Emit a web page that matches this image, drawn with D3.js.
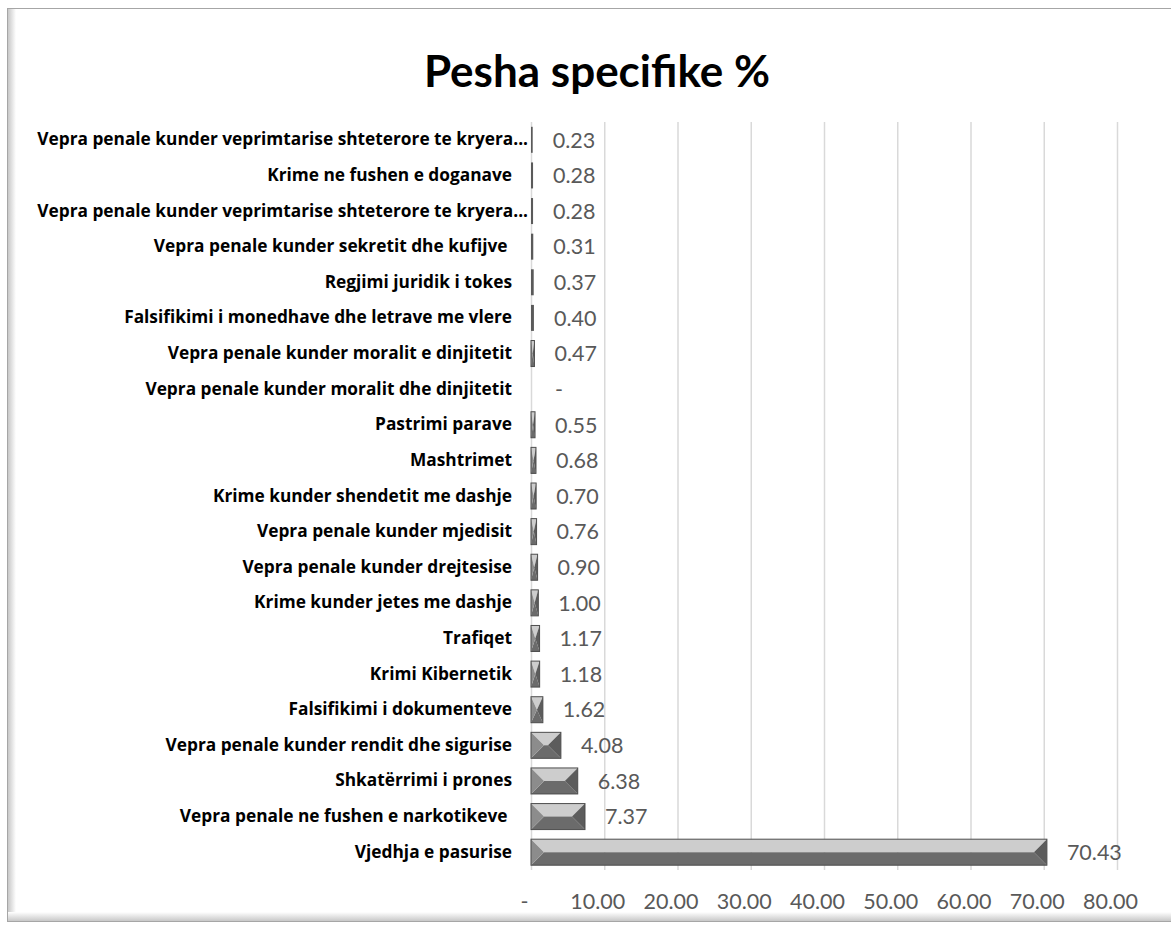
<!DOCTYPE html>
<html>
<head>
<meta charset="utf-8">
<script src="https://cdn.jsdelivr.net/npm/d3@7"></script>
<style>
  html, body { margin: 0; padding: 0; background: #fff; }
  svg { display: block; }
  .cat text { white-space: pre; }
</style>
</head>
<body>
<div id="chart"></div>
<script>
// Categories, top to bottom as drawn (trailing spaces are in the source labels)
const categories = [
    'Vepra penale kunder veprimtarise shteterore te kryera...',
    'Krime ne fushen e doganave',
    'Vepra penale kunder veprimtarise shteterore te kryera...',
    'Vepra penale kunder sekretit dhe kufijve ',
    'Regjimi juridik i tokes',
    'Falsifikimi i monedhave dhe letrave me vlere',
    'Vepra penale kunder moralit e dinjitetit',
    'Vepra penale kunder moralit dhe dinjitetit',
    'Pastrimi parave',
    'Mashtrimet',
    'Krime kunder shendetit me dashje',
    'Vepra penale kunder mjedisit',
    'Vepra penale kunder drejtesise',
    'Krime kunder jetes me dashje',
    'Trafiqet',
    'Krimi Kibernetik',
    'Falsifikimi i dokumenteve',
    'Vepra penale kunder rendit dhe sigurise',
    'Shkatërrimi i prones',
    'Vepra penale ne fushen e narkotikeve ',
    'Vjedhja e pasurise'
];

const values = [0.23, 0.28, 0.28, 0.31, 0.37, 0.40, 0.47, 0, 0.55, 0.68, 0.70,
                0.76, 0.90, 1.00, 1.17, 1.18, 1.62, 4.08, 6.38, 7.37, 70.43];

const ticks = [0, 10, 20, 30, 40, 50, 60, 70, 80];

const W = 1171, H = 925;
const margin = { left: 531, right: 54, top: 122, bottom: 55 };
const font = 'Lato, "Open Sans", sans-serif';

const fmt = v => v === 0 ? '-' : d3.format('.2f')(v);

const svg = d3.select('#chart').append('svg')
    .attr('width', W)
    .attr('height', H);

// chart frame with soft inner shading (left + bottom)
const defs = svg.append('defs');
const gl = defs.append('linearGradient').attr('id', 'shadeL');
gl.append('stop').attr('offset', 0).attr('stop-color', '#c8c8c8');
gl.append('stop').attr('offset', 1).attr('stop-color', '#ffffff');
const gb = defs.append('linearGradient').attr('id', 'shadeB')
    .attr('x1', 0).attr('y1', 1).attr('x2', 0).attr('y2', 0);
gb.append('stop').attr('offset', 0).attr('stop-color', '#c8c8c8');
gb.append('stop').attr('offset', 1).attr('stop-color', '#ffffff');

svg.append('rect').attr('x', 8).attr('y', 9).attr('width', 8).attr('height', 912)
    .attr('fill', 'url(#shadeL)');
svg.append('rect').attr('x', 8).attr('y', 912).attr('width', 1200).attr('height', 9)
    .attr('fill', 'url(#shadeB)');
svg.append('rect').attr('x', 7.5).attr('y', 8.5).attr('width', 1200).attr('height', 913)
    .attr('fill', 'none').attr('stroke', '#a6a6a6');

// Title
svg.append('text')
    .attr('x', 597)
    .attr('y', 87)
    .attr('text-anchor', 'middle')
    .attr('font-family', font)
    .attr('font-weight', 'bold')
    .attr('font-size', '44px')
    .attr('fill', '#000')
    .text('Pesha specifike %');

const x = d3.scaleLinear()
    .domain([0, 80])
    .range([margin.left, W - margin.right]);

const y = d3.scaleBand()
    .domain(d3.range(categories.length))
    .range([margin.top, H - margin.bottom])
    .paddingInner(0.27)
    .paddingOuter(0.135);

// Gridlines
svg.append('g')
    .selectAll('line')
    .data(ticks)
    .join('line')
    .attr('x1', d => x(d) + 0.5)
    .attr('x2', d => x(d) + 0.5)
    .attr('y1', margin.top)
    .attr('y2', H - margin.bottom)
    .attr('stroke', '#d9d9d9')
    .attr('stroke-width', 1.5);

// X axis labels (accounting format shifts them left a little)
const xAxis = d3.axisBottom(x)
    .tickValues(ticks)
    .tickSize(0)
    .tickFormat(fmt);

const xg = svg.append('g')
    .attr('transform', `translate(-7,${H - margin.bottom + 21})`)
    .call(xAxis);
xg.select('.domain').remove();
xg.selectAll('text')
    .attr('font-family', font)
    .attr('font-size', '21.5px')
    .attr('fill', '#595959');

// Category labels
const yAxis = d3.axisLeft(y)
    .tickSize(0)
    .tickPadding(19)
    .tickFormat(i => categories[i]);

const yg = svg.append('g')
    .attr('class', 'cat')
    .attr('transform', `translate(${margin.left},0)`)
    .call(yAxis);
yg.select('.domain').remove();
yg.selectAll('text')
    .attr('font-family', '"Open Sans", sans-serif')
    .attr('font-weight', 'bold')
    .attr('font-size', '17.3px')
    .attr('fill', '#000')
    .attr('dx', i => categories[i].endsWith('...') ? 16 : 0);

// Bevelled bars
const bars = svg.append('g')
    .selectAll('g')
    .data(values.map((v, i) => ({ v, i })).filter(d => d.v > 0))
    .join('g');

function barPoly(d) {
    const x0 = x(0), x1 = x(d.v);
    const y0 = y(d.i), y1 = y0 + y.bandwidth();
    const ym = (y0 + y1) / 2;
    const w = x1 - x0, h = y1 - y0;
    const b = Math.min(h / 2, w / 2);
    return { x0, x1, y0, y1, ym, b, w };
}

bars.each(function(d) {
    const g = d3.select(this);
    const p = barPoly(d);
    if (p.w < 3) {
        g.append('rect')
            .attr('x', p.x0).attr('y', p.y0)
            .attr('width', Math.max(p.w, 1.6)).attr('height', p.y1 - p.y0)
            .attr('fill', '#5a5a5a');
        return;
    }
    const pts = a => a.map(q => q.join(',')).join(' ');
    // top face
    g.append('polygon')
        .attr('points', pts([[p.x0, p.y0], [p.x1, p.y0], [p.x1 - p.b, p.ym], [p.x0 + p.b, p.ym]]))
        .attr('fill', '#cdcdcd');
    // bottom face
    g.append('polygon')
        .attr('points', pts([[p.x0, p.y1], [p.x1, p.y1], [p.x1 - p.b, p.ym], [p.x0 + p.b, p.ym]]))
        .attr('fill', '#6b6b6b');
    // left end
    g.append('polygon')
        .attr('points', pts([[p.x0, p.y0], [p.x0 + p.b, p.ym], [p.x0, p.y1]]))
        .attr('fill', '#8c8c8c');
    // right end
    g.append('polygon')
        .attr('points', pts([[p.x1, p.y0], [p.x1 - p.b, p.ym], [p.x1, p.y1]]))
        .attr('fill', '#5c5c5c');
    g.append('rect')
        .attr('x', p.x0).attr('y', p.y0)
        .attr('width', p.w).attr('height', p.y1 - p.y0)
        .attr('fill', 'none')
        .attr('stroke', '#4d4d4d')
        .attr('stroke-width', 1);
});

// Value labels
svg.append('g')
    .selectAll('text')
    .data(values)
    .join('text')
    .attr('x', d => x(d) + (d === 0 ? 24 : 20))
    .attr('y', (d, i) => y(i) + y.bandwidth() / 2)
    .attr('dy', '0.36em')
    .attr('font-family', font)
    .attr('font-size', '21.5px')
    .attr('fill', '#595959')
    .text(fmt);
</script>
</body>
</html>
